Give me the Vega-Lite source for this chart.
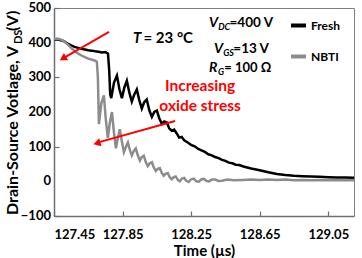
{
  "$schema": "https://vega.github.io/schema/vega-lite/v6.json",
  "autosize": "none",
  "width": 300,
  "height": 208,
  "padding": {"left": 54, "top": 8, "right": 8, "bottom": 42},
  "background": "white",
  "data": {"values": [{}]},
  "config": {
    "font": "Lato",
    "view": {"stroke": "#7f7f7f", "strokeWidth": 1},
    "axis": {
      "grid": false,
      "domainColor": "#6f6f6f",
      "domainWidth": 1.5,
      "tickColor": "#6f6f6f",
      "tickWidth": 1.2,
      "tickSize": -5,
      "labelFont": "Lato",
      "labelFontWeight": "bold",
      "labelFontSize": 13,
      "labelColor": "#000000",
      "titleFont": "Lato",
      "titleFontWeight": "bold",
      "titleFontSize": 15,
      "titleColor": "#000000"
    },
    "legend": {
      "labelFont": "Lato",
      "labelFontWeight": "bold",
      "labelFontSize": 12,
      "labelColor": "#000000"
    }
  },
  "datasets": {
    "traces": [
      {"t": 127.45, "v": 408, "series": "Fresh"},
      {"t": 127.47, "v": 410, "series": "Fresh"},
      {"t": 127.49, "v": 407, "series": "Fresh"},
      {"t": 127.51, "v": 404, "series": "Fresh"},
      {"t": 127.53, "v": 397, "series": "Fresh"},
      {"t": 127.55, "v": 392, "series": "Fresh"},
      {"t": 127.57, "v": 388, "series": "Fresh"},
      {"t": 127.59, "v": 385, "series": "Fresh"},
      {"t": 127.61, "v": 382, "series": "Fresh"},
      {"t": 127.63, "v": 380, "series": "Fresh"},
      {"t": 127.65, "v": 378, "series": "Fresh"},
      {"t": 127.67, "v": 377, "series": "Fresh"},
      {"t": 127.69, "v": 375, "series": "Fresh"},
      {"t": 127.71, "v": 374, "series": "Fresh"},
      {"t": 127.73, "v": 372, "series": "Fresh"},
      {"t": 127.75, "v": 373, "series": "Fresh"},
      {"t": 127.765, "v": 368, "series": "Fresh"},
      {"t": 127.772, "v": 320, "series": "Fresh"},
      {"t": 127.778, "v": 250, "series": "Fresh"},
      {"t": 127.784, "v": 240, "series": "Fresh"},
      {"t": 127.800, "v": 285, "series": "Fresh"},
      {"t": 127.817, "v": 305, "series": "Fresh"},
      {"t": 127.832, "v": 265, "series": "Fresh"},
      {"t": 127.846, "v": 240, "series": "Fresh"},
      {"t": 127.860, "v": 270, "series": "Fresh"},
      {"t": 127.875, "v": 290, "series": "Fresh"},
      {"t": 127.890, "v": 255, "series": "Fresh"},
      {"t": 127.904, "v": 230, "series": "Fresh"},
      {"t": 127.918, "v": 250, "series": "Fresh"},
      {"t": 127.933, "v": 265, "series": "Fresh"},
      {"t": 127.947, "v": 235, "series": "Fresh"},
      {"t": 127.962, "v": 210, "series": "Fresh"},
      {"t": 127.976, "v": 228, "series": "Fresh"},
      {"t": 127.991, "v": 236, "series": "Fresh"},
      {"t": 128.006, "v": 205, "series": "Fresh"},
      {"t": 128.021, "v": 186, "series": "Fresh"},
      {"t": 128.035, "v": 200, "series": "Fresh"},
      {"t": 128.050, "v": 204, "series": "Fresh"},
      {"t": 128.064, "v": 182, "series": "Fresh"},
      {"t": 128.079, "v": 166, "series": "Fresh"},
      {"t": 128.093, "v": 173, "series": "Fresh"},
      {"t": 128.108, "v": 170, "series": "Fresh"},
      {"t": 128.122, "v": 153, "series": "Fresh"},
      {"t": 128.137, "v": 146, "series": "Fresh"},
      {"t": 128.151, "v": 149, "series": "Fresh"},
      {"t": 128.166, "v": 138, "series": "Fresh"},
      {"t": 128.180, "v": 126, "series": "Fresh"},
      {"t": 128.195, "v": 128, "series": "Fresh"},
      {"t": 128.21, "v": 118, "series": "Fresh"},
      {"t": 128.23, "v": 112, "series": "Fresh"},
      {"t": 128.25, "v": 105, "series": "Fresh"},
      {"t": 128.27, "v": 101, "series": "Fresh"},
      {"t": 128.29, "v": 94, "series": "Fresh"},
      {"t": 128.31, "v": 89, "series": "Fresh"},
      {"t": 128.33, "v": 85, "series": "Fresh"},
      {"t": 128.35, "v": 78, "series": "Fresh"},
      {"t": 128.37, "v": 75, "series": "Fresh"},
      {"t": 128.39, "v": 70, "series": "Fresh"},
      {"t": 128.41, "v": 67, "series": "Fresh"},
      {"t": 128.43, "v": 62, "series": "Fresh"},
      {"t": 128.45, "v": 59, "series": "Fresh"},
      {"t": 128.47, "v": 54, "series": "Fresh"},
      {"t": 128.49, "v": 52, "series": "Fresh"},
      {"t": 128.51, "v": 48, "series": "Fresh"},
      {"t": 128.53, "v": 47, "series": "Fresh"},
      {"t": 128.56, "v": 42, "series": "Fresh"},
      {"t": 128.60, "v": 37, "series": "Fresh"},
      {"t": 128.65, "v": 32, "series": "Fresh"},
      {"t": 128.70, "v": 26, "series": "Fresh"},
      {"t": 128.75, "v": 21, "series": "Fresh"},
      {"t": 128.80, "v": 18, "series": "Fresh"},
      {"t": 128.85, "v": 16, "series": "Fresh"},
      {"t": 128.90, "v": 15, "series": "Fresh"},
      {"t": 128.95, "v": 14, "series": "Fresh"},
      {"t": 129.00, "v": 13, "series": "Fresh"},
      {"t": 129.05, "v": 12, "series": "Fresh"},
      {"t": 129.10, "v": 11, "series": "Fresh"},
      {"t": 129.15, "v": 11, "series": "Fresh"},
      {"t": 129.20, "v": 10, "series": "Fresh"},

      {"t": 127.45, "v": 410, "series": "NBTI"},
      {"t": 127.47, "v": 412, "series": "NBTI"},
      {"t": 127.49, "v": 409, "series": "NBTI"},
      {"t": 127.51, "v": 403, "series": "NBTI"},
      {"t": 127.53, "v": 395, "series": "NBTI"},
      {"t": 127.55, "v": 385, "series": "NBTI"},
      {"t": 127.57, "v": 376, "series": "NBTI"},
      {"t": 127.59, "v": 369, "series": "NBTI"},
      {"t": 127.61, "v": 363, "series": "NBTI"},
      {"t": 127.63, "v": 358, "series": "NBTI"},
      {"t": 127.65, "v": 354, "series": "NBTI"},
      {"t": 127.67, "v": 351, "series": "NBTI"},
      {"t": 127.69, "v": 348, "series": "NBTI"},
      {"t": 127.700, "v": 345, "series": "NBTI"},
      {"t": 127.706, "v": 300, "series": "NBTI"},
      {"t": 127.712, "v": 165, "series": "NBTI"},
      {"t": 127.726, "v": 225, "series": "NBTI"},
      {"t": 127.741, "v": 248, "series": "NBTI"},
      {"t": 127.752, "v": 180, "series": "NBTI"},
      {"t": 127.764, "v": 125, "series": "NBTI"},
      {"t": 127.776, "v": 170, "series": "NBTI"},
      {"t": 127.788, "v": 200, "series": "NBTI"},
      {"t": 127.800, "v": 140, "series": "NBTI"},
      {"t": 127.811, "v": 95, "series": "NBTI"},
      {"t": 127.822, "v": 125, "series": "NBTI"},
      {"t": 127.834, "v": 150, "series": "NBTI"},
      {"t": 127.846, "v": 115, "series": "NBTI"},
      {"t": 127.858, "v": 84, "series": "NBTI"},
      {"t": 127.870, "v": 100, "series": "NBTI"},
      {"t": 127.881, "v": 112, "series": "NBTI"},
      {"t": 127.893, "v": 90, "series": "NBTI"},
      {"t": 127.904, "v": 75, "series": "NBTI"},
      {"t": 127.916, "v": 88, "series": "NBTI"},
      {"t": 127.927, "v": 95, "series": "NBTI"},
      {"t": 127.939, "v": 75, "series": "NBTI"},
      {"t": 127.951, "v": 60, "series": "NBTI"},
      {"t": 127.962, "v": 70, "series": "NBTI"},
      {"t": 127.974, "v": 74, "series": "NBTI"},
      {"t": 127.986, "v": 55, "series": "NBTI"},
      {"t": 127.997, "v": 44, "series": "NBTI"},
      {"t": 128.009, "v": 52, "series": "NBTI"},
      {"t": 128.021, "v": 55, "series": "NBTI"},
      {"t": 128.032, "v": 40, "series": "NBTI"},
      {"t": 128.044, "v": 30, "series": "NBTI"},
      {"t": 128.056, "v": 36, "series": "NBTI"},
      {"t": 128.067, "v": 38, "series": "NBTI"},
      {"t": 128.079, "v": 24, "series": "NBTI"},
      {"t": 128.090, "v": 16, "series": "NBTI"},
      {"t": 128.102, "v": 22, "series": "NBTI"},
      {"t": 128.114, "v": 24, "series": "NBTI"},
      {"t": 128.125, "v": 12, "series": "NBTI"},
      {"t": 128.137, "v": 6, "series": "NBTI"},
      {"t": 128.149, "v": 12, "series": "NBTI"},
      {"t": 128.160, "v": 14, "series": "NBTI"},
      {"t": 128.172, "v": 4, "series": "NBTI"},
      {"t": 128.184, "v": 0, "series": "NBTI"},
      {"t": 128.196, "v": 8, "series": "NBTI"},
      {"t": 128.21, "v": 10, "series": "NBTI"},
      {"t": 128.22, "v": 2, "series": "NBTI"},
      {"t": 128.235, "v": -2, "series": "NBTI"},
      {"t": 128.25, "v": 6, "series": "NBTI"},
      {"t": 128.265, "v": 8, "series": "NBTI"},
      {"t": 128.28, "v": 0, "series": "NBTI"},
      {"t": 128.295, "v": -1, "series": "NBTI"},
      {"t": 128.31, "v": 6, "series": "NBTI"},
      {"t": 128.325, "v": 7, "series": "NBTI"},
      {"t": 128.34, "v": 1, "series": "NBTI"},
      {"t": 128.355, "v": 0, "series": "NBTI"},
      {"t": 128.37, "v": 5, "series": "NBTI"},
      {"t": 128.39, "v": 5, "series": "NBTI"},
      {"t": 128.41, "v": 1, "series": "NBTI"},
      {"t": 128.43, "v": 2, "series": "NBTI"},
      {"t": 128.46, "v": 5, "series": "NBTI"},
      {"t": 128.50, "v": 3, "series": "NBTI"},
      {"t": 128.55, "v": 4, "series": "NBTI"},
      {"t": 128.60, "v": 5, "series": "NBTI"},
      {"t": 128.65, "v": 4, "series": "NBTI"},
      {"t": 128.70, "v": 5, "series": "NBTI"},
      {"t": 128.75, "v": 4, "series": "NBTI"},
      {"t": 128.80, "v": 5, "series": "NBTI"},
      {"t": 128.85, "v": 3, "series": "NBTI"},
      {"t": 128.90, "v": 4, "series": "NBTI"},
      {"t": 128.95, "v": 3, "series": "NBTI"},
      {"t": 129.00, "v": 4, "series": "NBTI"},
      {"t": 129.05, "v": 3, "series": "NBTI"},
      {"t": 129.10, "v": 3, "series": "NBTI"},
      {"t": 129.15, "v": 3, "series": "NBTI"},
      {"t": 129.20, "v": 3, "series": "NBTI"}
    ],
    "yticks": [
      {"tick": -100}, {"tick": 0}, {"tick": 100}, {"tick": 200},
      {"tick": 300}, {"tick": 400}, {"tick": 500}
    ]
  },
  "layer": [
    {
      "data": {"name": "traces"},
      "mark": {"type": "line", "strokeWidth": 2.5, "clip": true},
      "encoding": {
        "x": {
          "field": "t",
          "type": "quantitative",
          "scale": {"domain": [127.45, 129.2], "nice": false, "zero": false},
          "axis": {
            "values": [127.45, 127.85, 128.25, 128.65, 129.05],
            "format": ".2f",
            "labelOverlap": false,
            "labelPadding": 17,
            "title": "Time (µs)",
            "titlePadding": 2
          }
        },
        "y": {
          "field": "v",
          "type": "quantitative",
          "scale": {"domain": [-100, 500], "nice": false},
          "axis": {
            "values": [-100, 0, 100, 200, 300, 400, 500],
            "labels": false,
            "title": null
          }
        },
        "color": {
          "field": "series",
          "type": "nominal",
          "scale": {"domain": ["Fresh", "NBTI"], "range": ["#000000", "#8c8c8c"]},
          "legend": {
            "title": null,
            "orient": "none",
            "legendX": 235,
            "legendY": 8,
            "symbolType": "stroke",
            "symbolSize": 225,
            "symbolStrokeWidth": 4,
            "labelOffset": 3,
            "rowPadding": 13,
            "padding": 0
          }
        }
      }
    },
    {
      "data": {"name": "yticks"},
      "mark": {"type": "text", "align": "right", "baseline": "middle", "dx": -3, "font": "Lato", "fontSize": 13, "fontWeight": "bold", "color": "#000000", "clip": false},
      "encoding": {
        "x": {"datum": 127.45},
        "y": {"field": "tick", "type": "quantitative"},
        "text": {"field": "tick", "type": "quantitative", "format": "d"}
      }
    },
    {
      "mark": {"type": "rule", "color": "#ff0000", "strokeWidth": 2},
      "encoding": {
        "x": {"datum": 127.771},
        "y": {"datum": 431},
        "x2": {"datum": 127.515},
        "y2": {"datum": 358}
      }
    },
    {
      "mark": {"type": "point", "shape": "triangle", "filled": true, "color": "#ff0000", "opacity": 1, "size": 70, "angle": 240},
      "encoding": {"x": {"datum": 127.508}, "y": {"datum": 356}}
    },
    {
      "mark": {"type": "rule", "color": "#ff0000", "strokeWidth": 2},
      "encoding": {
        "x": {"datum": 128.156},
        "y": {"datum": 174},
        "x2": {"datum": 127.714},
        "y2": {"datum": 113}
      }
    },
    {
      "mark": {"type": "point", "shape": "triangle", "filled": true, "color": "#ff0000", "opacity": 1, "size": 70, "angle": 254},
      "encoding": {"x": {"datum": 127.707}, "y": {"datum": 111}}
    },
    {
      "mark": {"type": "text", "text": "T", "font": "Lato", "fontSize": 15, "fontWeight": "bold", "fontStyle": "italic", "align": "left", "baseline": "alphabetic"},
      "encoding": {"x": {"datum": 127.911}, "y": {"datum": 399}}
    },
    {
      "mark": {"type": "text", "text": "= 23 °C", "font": "Lato", "fontSize": 15, "fontWeight": "bold", "align": "left", "baseline": "alphabetic"},
      "encoding": {"x": {"datum": 127.972}, "y": {"datum": 399}}
    },
    {
      "mark": {"type": "text", "text": "V", "font": "Lato", "fontSize": 14, "fontWeight": "bold", "fontStyle": "italic", "align": "left", "baseline": "alphabetic"},
      "encoding": {"x": {"datum": 128.354}, "y": {"datum": 445}}
    },
    {
      "mark": {"type": "text", "text": "DC", "font": "Lato", "fontSize": 9, "fontWeight": "bold", "fontStyle": "italic", "align": "left", "baseline": "alphabetic"},
      "encoding": {"x": {"datum": 128.408}, "y": {"datum": 436}}
    },
    {
      "mark": {"type": "text", "text": "=400 V", "font": "Lato", "fontSize": 13.5, "fontWeight": "bold", "align": "left", "baseline": "alphabetic"},
      "encoding": {"x": {"datum": 128.474}, "y": {"datum": 445}}
    },
    {
      "mark": {"type": "text", "text": "V", "font": "Lato", "fontSize": 14, "fontWeight": "bold", "fontStyle": "italic", "align": "left", "baseline": "alphabetic"},
      "encoding": {"x": {"datum": 128.383}, "y": {"datum": 370}}
    },
    {
      "mark": {"type": "text", "text": "GS", "font": "Lato", "fontSize": 9, "fontWeight": "bold", "fontStyle": "italic", "align": "left", "baseline": "alphabetic"},
      "encoding": {"x": {"datum": 128.437}, "y": {"datum": 361}}
    },
    {
      "mark": {"type": "text", "text": "=13 V", "font": "Lato", "fontSize": 13.5, "fontWeight": "bold", "align": "left", "baseline": "alphabetic"},
      "encoding": {"x": {"datum": 128.496}, "y": {"datum": 370}}
    },
    {
      "mark": {"type": "text", "text": "R", "font": "Lato", "fontSize": 14, "fontWeight": "bold", "fontStyle": "italic", "align": "left", "baseline": "alphabetic"},
      "encoding": {"x": {"datum": 128.354}, "y": {"datum": 315}}
    },
    {
      "mark": {"type": "text", "text": "G", "font": "Lato", "fontSize": 9, "fontWeight": "bold", "fontStyle": "italic", "align": "left", "baseline": "alphabetic"},
      "encoding": {"x": {"datum": 128.406}, "y": {"datum": 307}}
    },
    {
      "mark": {"type": "text", "text": "= 100 Ω", "font": "Lato", "fontSize": 13, "fontWeight": "bold", "align": "left", "baseline": "alphabetic"},
      "encoding": {"x": {"datum": 128.443}, "y": {"datum": 315}}
    },
    {
      "mark": {"type": "text", "text": "Increasing", "font": "Lato", "fontSize": 15.5, "fontWeight": "bold", "color": "#ff0000", "align": "center", "baseline": "alphabetic"},
      "encoding": {"x": {"datum": 128.302}, "y": {"datum": 261}}
    },
    {
      "mark": {"type": "text", "text": "oxide stress", "font": "Lato", "fontSize": 15.5, "fontWeight": "bold", "color": "#ff0000", "align": "center", "baseline": "alphabetic"},
      "encoding": {"x": {"datum": 128.302}, "y": {"datum": 204}}
    },
    {
      "mark": {"type": "text", "text": "Drain-Source Votlage, V", "font": "Lato", "fontSize": 16, "fontWeight": "bold", "angle": 270, "align": "left", "baseline": "alphabetic", "clip": false},
      "encoding": {"x": {"datum": 127.240}, "y": {"datum": -97}}
    },
    {
      "mark": {"type": "text", "text": "DS", "font": "Lato", "fontSize": 11, "fontWeight": "bold", "angle": 270, "align": "left", "baseline": "alphabetic", "clip": false},
      "encoding": {"x": {"datum": 127.263}, "y": {"datum": 396}}
    },
    {
      "mark": {"type": "text", "text": "(V)", "font": "Lato", "fontSize": 16, "fontWeight": "bold", "angle": 270, "align": "left", "baseline": "alphabetic", "clip": false},
      "encoding": {"x": {"datum": 127.240}, "y": {"datum": 434}}
    }
  ]
}
